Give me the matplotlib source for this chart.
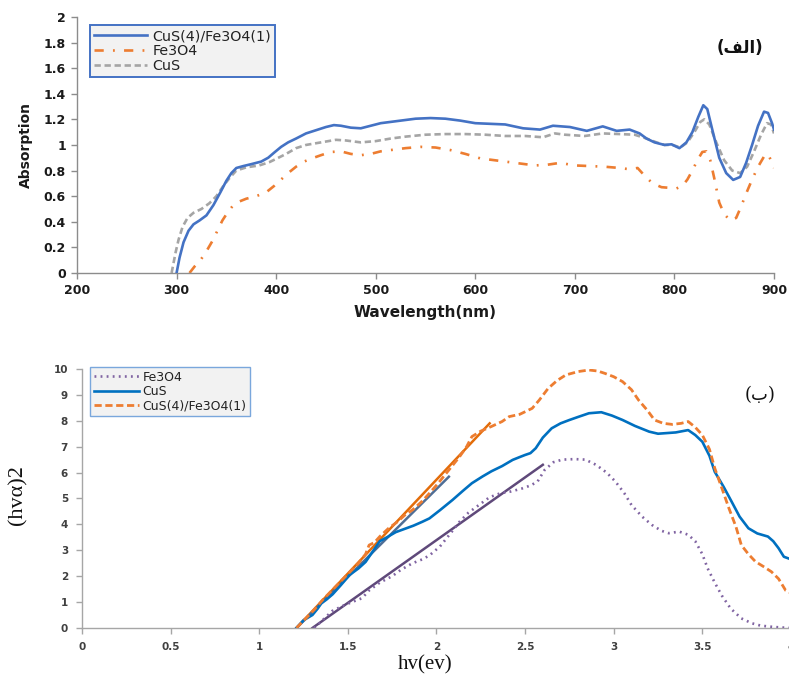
import matplotlib
matplotlib.use("Agg")
import matplotlib.pyplot as plt

# ---------------- UV-Vis absorption spectra ----------------
wl_composite = [300, 303, 307, 312, 317, 323, 330, 337, 344, 350, 355, 360, 367, 375, 385,
                392, 398, 405, 412, 420, 430, 440, 450, 458, 465, 475, 485, 495, 505, 515,
                525, 540, 555, 570, 585, 600, 615, 630, 648, 665, 678, 695, 712, 728, 742,
                755, 765, 772, 780, 790, 797, 805, 812, 818, 824, 829, 833, 838, 845, 852,
                859, 866, 872, 878, 884, 890, 894, 898, 900]
abs_composite = [0.0, 0.12, 0.24, 0.33, 0.38, 0.41, 0.45, 0.53, 0.63, 0.72, 0.78, 0.82, 0.835,
                 0.85, 0.87, 0.90, 0.94, 0.985, 1.02, 1.05, 1.09, 1.115, 1.14, 1.155, 1.15,
                 1.135, 1.13, 1.15, 1.17, 1.18, 1.19, 1.205, 1.21, 1.205, 1.19, 1.17, 1.165,
                 1.16, 1.13, 1.12, 1.15, 1.14, 1.11, 1.145, 1.11, 1.12, 1.09, 1.05, 1.02, 1.0,
                 1.005, 0.975, 1.02, 1.10, 1.22, 1.31, 1.28, 1.12, 0.90, 0.78, 0.727, 0.75,
                 0.86, 1.0, 1.15, 1.26, 1.25, 1.17, 1.12]

wl_fe3o4 = [313, 318, 324, 330, 336, 341, 346, 351, 356, 362, 370, 380, 390, 398, 405, 412,
            420, 428, 436, 445, 455, 465, 475, 485, 495, 505, 515, 530, 545, 560, 575, 590,
            605, 620, 640, 660, 672, 685, 700, 715, 730, 745, 755, 763, 770, 778, 787, 795,
            802, 808, 813, 818, 823, 828, 832, 836, 840, 845, 850, 856, 862, 867, 872, 878,
            884, 890, 894, 898, 900]
abs_fe3o4 = [0.0, 0.05, 0.10, 0.17, 0.25, 0.33, 0.41, 0.47, 0.52, 0.555, 0.58, 0.60, 0.63,
             0.68, 0.73, 0.78, 0.83, 0.87, 0.895, 0.92, 0.945, 0.95, 0.93, 0.92, 0.93, 0.95,
             0.96, 0.975, 0.985, 0.98, 0.96, 0.93, 0.895, 0.88, 0.86, 0.84, 0.845, 0.86,
             0.84, 0.835, 0.83, 0.82, 0.81, 0.82, 0.76, 0.70, 0.67, 0.665, 0.66, 0.68, 0.73,
             0.80, 0.88, 0.945, 0.95, 0.88, 0.74, 0.55, 0.46, 0.41, 0.43, 0.52, 0.62, 0.73,
             0.83, 0.91, 0.93, 0.86, 0.82]

wl_cus = [295, 297, 299, 302, 306, 311, 317, 325, 333, 340, 347, 353, 360, 370, 383, 393,
          401, 410, 420, 430, 445, 460, 470, 485, 500, 515, 530, 550, 570, 590, 610, 630,
          650, 668, 680, 690, 710, 728, 745, 760, 772, 782, 790, 798, 806, 813, 820, 826,
          830, 835, 842, 850, 858, 866, 873, 880, 887, 893, 897, 900]
abs_cus = [0.0, 0.08, 0.16, 0.26, 0.36, 0.43, 0.47, 0.50, 0.545, 0.60, 0.68, 0.74, 0.80,
           0.825, 0.84, 0.865, 0.895, 0.93, 0.975, 1.0, 1.02, 1.04, 1.035, 1.02, 1.03, 1.05,
           1.065, 1.08, 1.085, 1.085, 1.08, 1.07, 1.07, 1.06, 1.09, 1.08, 1.07, 1.09, 1.085,
           1.08, 1.05, 1.02, 1.0, 1.0, 0.98, 1.02, 1.10, 1.18, 1.20, 1.16, 1.02, 0.88, 0.80,
           0.78, 0.83, 0.95, 1.08, 1.17, 1.16, 1.09]

wl_ticks = [200, 300, 400, 500, 600, 700, 800, 900]
abs_ticks = [0, 0.2, 0.4, 0.6, 0.8, 1, 1.2, 1.4, 1.6, 1.8, 2]

# ---------------- Tauc plot, (h nu alpha)^2 vs h nu ----------------
ev_fe3o4 = [1.31, 1.35, 1.41, 1.47, 1.53, 1.58, 1.62, 1.68, 1.75, 1.80, 1.865, 1.92, 1.96,
            2.02, 2.08, 2.13, 2.18, 2.24, 2.30, 2.36, 2.42, 2.48, 2.53, 2.57, 2.61, 2.66,
            2.71, 2.78, 2.84, 2.90, 2.96, 3.01, 3.06, 3.10, 3.16, 3.215, 3.27, 3.31, 3.37,
            3.42, 3.46, 3.50, 3.53, 3.57, 3.61, 3.66, 3.72, 3.78, 3.83, 3.90, 3.97, 4.0]
tauc_fe3o4 = [0.0, 0.25, 0.65, 0.85, 1.02, 1.15, 1.45, 1.75, 2.0, 2.25, 2.5, 2.65, 2.8, 3.15,
              3.66, 4.1, 4.45, 4.75, 5.05, 5.2, 5.27, 5.38, 5.5, 5.65, 6.1, 6.4, 6.5, 6.52,
              6.5, 6.3, 6.0, 5.65, 5.2, 4.75, 4.3, 3.98, 3.75, 3.66, 3.72, 3.6, 3.35, 2.85,
              2.3, 1.75, 1.25, 0.75, 0.37, 0.18, 0.09, 0.04, 0.01, 0.0]

ev_cus = [1.21, 1.25, 1.30, 1.33, 1.35, 1.38, 1.414, 1.46, 1.51, 1.56, 1.60, 1.64, 1.68,
          1.72, 1.77, 1.81, 1.87, 1.92, 1.96, 2.02, 2.09, 2.15, 2.20, 2.26, 2.31, 2.37, 2.43,
          2.47, 2.50, 2.53, 2.56, 2.60, 2.65, 2.70, 2.75, 2.80, 2.86, 2.93, 2.99, 3.05, 3.12,
          3.20, 3.25, 3.29, 3.35, 3.42, 3.46, 3.50, 3.54, 3.57, 3.62, 3.665, 3.71, 3.76,
          3.81, 3.87, 3.90, 3.93, 3.96, 4.0]
tauc_cus = [0.0, 0.3, 0.5, 0.75, 0.95, 1.1, 1.3, 1.65, 2.05, 2.3, 2.55, 2.95, 3.35, 3.5, 3.7,
            3.8, 3.95, 4.1, 4.23, 4.55, 4.94, 5.3, 5.59, 5.85, 6.05, 6.25, 6.49, 6.6, 6.68,
            6.75, 6.94, 7.35, 7.71, 7.9, 8.03, 8.15, 8.29, 8.33, 8.2, 8.03, 7.8, 7.58, 7.5,
            7.52, 7.55, 7.64, 7.45, 7.19, 6.65, 6.03, 5.45, 4.88, 4.3, 3.85, 3.65, 3.53, 3.35,
            3.08, 2.75, 2.65]

ev_composite = [1.21, 1.26, 1.31, 1.36, 1.41, 1.46, 1.51, 1.56, 1.60, 1.62, 1.65, 1.68,
                1.73, 1.78, 1.82, 1.865, 1.92, 1.96, 2.01, 2.07, 2.13, 2.17, 2.20, 2.25,
                2.31, 2.37, 2.41, 2.47, 2.54, 2.58, 2.63, 2.68, 2.73, 2.80, 2.86, 2.91, 2.95,
                3.00, 3.05, 3.10, 3.14, 3.19, 3.23, 3.28, 3.33, 3.38, 3.42, 3.46, 3.50, 3.54,
                3.57, 3.61, 3.65, 3.69, 3.72, 3.76, 3.80, 3.85, 3.89, 3.93, 3.97, 4.0]
tauc_composite = [0.0, 0.35, 0.7, 1.1, 1.45, 1.8, 2.15, 2.5, 2.85, 3.2, 3.3, 3.53, 3.85, 4.1,
                  4.35, 4.56, 4.9, 5.2, 5.59, 6.1, 6.61, 7.0, 7.39, 7.6, 7.78, 7.97, 8.16,
                  8.25, 8.48, 8.8, 9.25, 9.55, 9.77, 9.9, 9.96, 9.92, 9.83, 9.7, 9.51, 9.2,
                  8.8, 8.4, 8.03, 7.9, 7.86, 7.9, 7.97, 7.75, 7.45, 6.9, 6.17, 5.4, 4.62, 3.9,
                  3.2, 2.85, 2.56, 2.35, 2.17, 1.9, 1.45, 1.35]

# linear extrapolations of the absorption edges
fit_fe3o4_x = [1.30, 2.60]
fit_fe3o4_y = [0.0, 6.3]
fit_cus_x = [1.21, 2.07]
fit_cus_y = [0.0, 5.84]
fit_composite_x = [1.21, 2.30]
fit_composite_y = [0.0, 7.9]

ev_ticks = [0, 0.5, 1, 1.5, 2, 2.5, 3, 3.5, 4]
tauc_ticks = list(range(0, 11))

fig = plt.figure(figsize=(7.89, 6.77), dpi=100)
fig.patch.set_facecolor("white")

# ---------------- top panel ----------------
ax1 = fig.add_axes([0.0976, 0.5968, 0.8834, 0.3782])
l_comp, = ax1.plot(wl_composite, abs_composite, color="#4472C4", lw=1.9,
                   label="CuS(4)/Fe3O4(1)", zorder=3)
l_fe, = ax1.plot(wl_fe3o4, abs_fe3o4, color="#ED7D31", lw=1.9, label="Fe3O4", zorder=2)
l_fe.set_dashes((3.5, 3.5, 0.7, 3.5))
l_cus, = ax1.plot(wl_cus, abs_cus, color="#A5A5A5", lw=1.9, label="CuS", zorder=2)
l_cus.set_dashes((2.4, 1.4))

ax1.set_xlim(200, 900)
ax1.set_ylim(0, 2)
ax1.set_xticks(wl_ticks)
ax1.set_yticks(abs_ticks)
ax1.set_yticklabels([f"{v:g}" for v in abs_ticks])
for s in ("top", "right"):
    ax1.spines[s].set_visible(False)
for s in ("left", "bottom"):
    ax1.spines[s].set_color("#8c8c8c")
    ax1.spines[s].set_linewidth(1.0)
ax1.tick_params(axis="both", direction="out", length=4, width=1.0, color="#8c8c8c",
                labelsize=9, labelcolor="#1a1a1a", pad=4)
for lab in ax1.get_xticklabels() + ax1.get_yticklabels():
    lab.set_fontweight("bold")
ax1.set_xlabel("Wavelength(nm)", fontsize=11, fontweight="bold", color="#1a1a1a", labelpad=6)
ax1.set_ylabel("Absorption", fontsize=10, fontweight="bold", color="#1a1a1a", labelpad=8)

leg1 = ax1.legend(handles=[l_comp, l_fe, l_cus], loc="upper left",
                  bbox_to_anchor=(0.0187, 0.969), borderaxespad=0, fontsize=10.3,
                  handlelength=3.7, labelspacing=0.05, handletextpad=0.35,
                  borderpad=0.3, fancybox=False, framealpha=1)
leg1.get_frame().set_edgecolor("#4472C4")
leg1.get_frame().set_linewidth(1.4)
leg1.get_frame().set_facecolor("#f2f2f2")
for t in leg1.get_texts():
    t.set_color("#222222")

# (الف) written in visual order with presentation forms
fig.text(740 / 789, 1 - 48 / 677, "(\uFED2\uFEDF\uFE8D)", fontsize=12, fontweight="bold",
         family=["DejaVu Sans"], ha="center", va="center", color="#111111")

# ---------------- bottom panel ----------------
ax2 = fig.add_axes([0.1039, 0.0724, 0.8986, 0.3826])
ax2.plot(fit_fe3o4_x, fit_fe3o4_y, color="#5F497A", lw=1.8, zorder=2)
ax2.plot(fit_composite_x, fit_composite_y, color="#E36C09", lw=1.8, zorder=2)
ax2.plot(fit_cus_x, fit_cus_y, color="#4F6E96", lw=1.8, zorder=2)

b_fe, = ax2.plot(ev_fe3o4, tauc_fe3o4, color="#8064A2", lw=1.9, label="Fe3O4", zorder=3)
b_fe.set_dashes((0.7, 1.6))
b_cus, = ax2.plot(ev_cus, tauc_cus, color="#0070C0", lw=1.9, label="CuS", zorder=3)
b_comp, = ax2.plot(ev_composite, tauc_composite, color="#ED7D31", lw=2.0,
                   label="CuS(4)/Fe3O4(1)", zorder=3)
b_comp.set_dashes((2.6, 1.3))

ax2.set_xlim(0, 4)
ax2.set_ylim(0, 10)
ax2.set_xticks(ev_ticks)
ax2.set_xticklabels([f"{v:g}" for v in ev_ticks])
ax2.set_yticks(tauc_ticks)
for s in ("top", "right"):
    ax2.spines[s].set_visible(False)
for s in ("left", "bottom"):
    ax2.spines[s].set_color("#a6a6a6")
    ax2.spines[s].set_linewidth(1.0)
ax2.tick_params(axis="both", direction="out", length=4, width=1.0, color="#a6a6a6",
                labelsize=7.5, labelcolor="#404040", pad=6)
for lab in ax2.get_xticklabels() + ax2.get_yticklabels():
    lab.set_fontweight("bold")

fig.text(18 / 789, 1 - 495 / 677, "(hvα)2", rotation=90, fontsize=16,
         family=["Liberation Serif"], ha="center", va="center", color="#111111")
fig.text(425 / 789, 1 - 665 / 677, "hv(ev)", fontsize=15,
         family=["Liberation Serif"], ha="center", va="center", color="#111111")

leg2 = ax2.legend(handles=[b_fe, b_cus, b_comp], loc="upper left",
                  bbox_to_anchor=(0.0113, 1.008), borderaxespad=0, fontsize=9,
                  handlelength=3.6, labelspacing=0.12, handletextpad=0.3,
                  borderpad=0.3, fancybox=False, framealpha=1)
leg2.get_frame().set_edgecolor("#7aa7dc")
leg2.get_frame().set_linewidth(1.0)
leg2.get_frame().set_facecolor("#f2f2f2")
for t in leg2.get_texts():
    t.set_color("#222222")

# (ب)
fig.text(760 / 789, 1 - 395 / 677, "(\uFE8F)", fontsize=13,
         family=["DejaVu Serif", "DejaVu Sans"], ha="center", va="center", color="#111111")

fig.savefig("out.png", dpi=100, facecolor="white")
